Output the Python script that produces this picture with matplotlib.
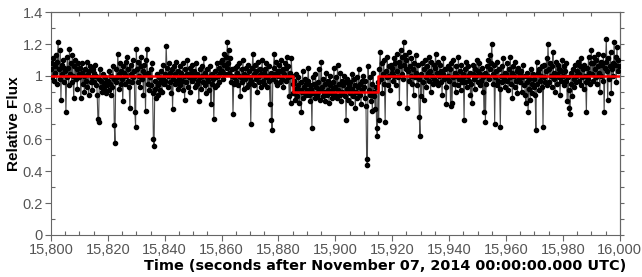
import matplotlib
matplotlib.use("AGG")

import matplotlib.pyplot as plt
import matplotlib.ticker as mticker
import numpy as np

# ── Data (flux in hundredths) ───────────────────────────────────────────────
T_START = 15800.0
T_STEP = 0.25  # seconds between samples

FLUX_PCT = [
    104, 108, 99, 111, 97, 106, 102, 113, 95, 109, 121, 104, 98, 116, 85, 107, 101, 110, 96, 105,
    103, 77, 99, 112, 105, 94, 117, 101, 108, 96, 113, 100, 86, 106, 110, 98, 104, 92, 108, 101,
    99, 105, 86, 102, 108, 95, 100, 90, 104, 97, 109, 93, 101, 88, 103, 106, 96, 99, 91, 104,
    102, 96, 107, 94, 100, 88, 73, 71, 98, 104, 93, 97, 90, 101, 95, 92, 99, 89, 96, 94,
    97, 91, 103, 95, 88, 100, 93, 106, 98, 69, 58, 96, 104, 99, 114, 101, 92, 108, 95, 103,
    98, 84, 106, 102, 95, 109, 100, 112, 97, 104, 93, 80, 101, 107, 96, 110, 99, 103, 77, 68,
    117, 104, 96, 109, 100, 93, 106, 112, 98, 103, 88, 107, 101, 78, 110, 117, 95, 102, 91, 99,
    104, 94, 108, 89, 60, 56, 92, 97, 86, 101, 94, 88, 99, 91, 96, 103, 90, 98, 107, 95,
    101, 97, 119, 105, 93, 100, 108, 96, 102, 89, 104, 79, 98, 106, 95, 101, 109, 97, 92, 103,
    99, 106, 94, 102, 97, 108, 91, 100, 85, 104, 96, 101, 110, 93, 99, 105, 90, 102, 97, 107,
    98, 103, 93, 100, 108, 95, 101, 97, 84, 104, 99, 92, 106, 100, 96, 111, 94, 102, 89, 99,
    104, 97, 91, 100, 106, 82, 95, 101, 98, 73, 93, 103, 99, 108, 94, 100, 105, 96, 102, 109,
    103, 110, 98, 107, 114, 101, 112, 105, 121, 108, 116, 102, 111, 96, 104, 100, 76, 95, 99, 105,
    97, 102, 106, 94, 100, 108, 87, 99, 104, 96, 110, 92, 101, 98, 105, 93, 100, 107, 95, 103,
    99, 70, 97, 105, 114, 101, 94, 107, 98, 103, 90, 109, 100, 96, 104, 93, 101, 110, 97, 102,
    95, 104, 99, 108, 93, 100, 106, 97, 82, 102, 72, 66, 98, 105, 114, 101, 96, 109, 94, 103,
    100, 107, 96, 103, 110, 98, 104, 93, 101, 108, 97, 105, 112, 99, 106, 87, 102, 83, 111, 100,
    95, 89, 97, 85, 92, 101, 87, 94, 99, 83, 91, 96, 77, 90, 103, 86, 93, 98, 88, 95,
    91, 97, 105, 88, 94, 84, 92, 67, 99, 89, 95, 86, 101, 93, 87, 96, 90, 104, 85, 92,
    109, 93, 87, 98, 90, 84, 95, 102, 88, 91, 97, 83, 94, 100, 89, 86, 96, 92, 105, 88,
    93, 99, 86, 107, 91, 95, 88, 102, 84, 97, 90, 94, 100, 87, 96, 72, 92, 98, 85, 94,
    89, 96, 83, 101, 92, 87, 98, 94, 80, 90, 99, 86, 93, 104, 88, 95, 82, 97, 91, 100,
    93, 86, 97, 81, 48, 44, 106, 91, 88, 99, 84, 95, 78, 102, 90, 87, 79, 93, 67, 62,
    96, 72, 104, 115, 98, 108, 89, 101, 110, 95, 71, 103, 99, 112, 94, 106, 100, 91, 107, 102,
    105, 97, 111, 100, 108, 94, 114, 103, 99, 109, 83, 106, 116, 101, 112, 98, 121, 107, 113, 104,
    110, 80, 103, 115, 97, 106, 100, 111, 95, 104, 88, 108, 99, 113, 102, 94, 107, 98, 74, 62,
    101, 87, 108, 96, 85, 104, 110, 99, 93, 106, 102, 112, 97, 103, 90, 109, 100, 95, 107, 98,
    105, 114, 97, 102, 109, 94, 100, 107, 96, 103, 88, 101, 111, 98, 104, 93, 82, 99, 106, 100,
    97, 104, 81, 108, 83, 99, 110, 95, 102, 90, 106, 100, 94, 112, 98, 103, 91, 107, 96, 101,
    99, 72, 104, 96, 109, 93, 100, 106, 97, 102, 88, 95, 83, 101, 107, 98, 92, 104, 100, 110,
    96, 103, 108, 94, 101, 97, 105, 90, 99, 77, 102, 71, 95, 106, 100, 110, 98, 113, 104, 108,
    120, 101, 95, 107, 70, 99, 103, 94, 109, 97, 104, 92, 68, 100, 106, 96, 111, 98, 102, 93,
    101, 97, 108, 91, 104, 99, 112, 95, 102, 86, 106, 100, 93, 109, 97, 103, 89, 105, 98, 101,
    96, 103, 90, 99, 107, 94, 100, 88, 83, 96, 102, 77, 92, 98, 85, 104, 95, 89, 101, 93,
    98, 88, 66, 109, 95, 102, 91, 104, 97, 100, 93, 106, 68, 99, 107, 96, 103, 111, 94, 120,
    104, 96, 108, 100, 93, 106, 115, 98, 102, 90, 109, 101, 95, 107, 99, 104, 88, 103, 97, 110,
    100, 106, 94, 103, 97, 108, 84, 99, 91, 80, 76, 95, 102, 87, 104, 98, 93, 107, 100, 96,
    103, 109, 97, 101, 106, 94, 111, 99, 104, 92, 107, 100, 96, 77, 105, 98, 112, 102, 95, 108,
    116, 101, 108, 97, 112, 104, 99, 110, 95, 106, 114, 102, 90, 109, 100, 107, 97, 113, 77, 105,
    109, 123, 103, 85, 111, 98, 106, 115, 89, 104, 108, 100, 121, 107, 112, 96, 118, 103, 110, 106,
]

# Square-well model (red)
MODEL_T = [15800, 15885, 15915, 16000]
MODEL_FLUX = [1.0, 0.9, 1.0, 1.0]

X_TICKS = [15800, 15820, 15840, 15860, 15880, 15900, 15920, 15940, 15960, 15980, 16000]
Y_TICKS = [0, 0.2, 0.4, 0.6, 0.8, 1.0, 1.2, 1.4]
Y_LABELS = ["0", "0.2", "0.4", "0.6", "0.8", "1", "1.2", "1.4"]

# ── Style ───────────────────────────────────────────────────────────────────
TICK_COLOR = "#555555"
SPINE_COLOR = "#666666"

plt.rcParams["font.family"] = ["Liberation Sans", "DejaVu Sans"]

flux = np.array(FLUX_PCT) / 100.0
times = T_START + T_STEP * np.arange(len(flux))

fig = plt.figure(figsize=(6.42, 2.77), dpi=100)
ax = fig.add_axes([0.0794, 0.152, 0.886, 0.804])

ax.plot(times, flux, color="#4a4a4a", linewidth=0.8, zorder=2)
ax.plot(times, flux, linestyle="none", marker="o", markersize=3.0,
        markerfacecolor="black", markeredgecolor="black", zorder=3)
ax.plot(MODEL_T, MODEL_FLUX, drawstyle="steps-post", color="#ff0000",
        linewidth=1.8, zorder=4)

ax.set_xlim(15800, 16000)
ax.set_ylim(0, 1.4)
ax.set_xticks(X_TICKS)
ax.set_xticklabels([f"{v:,}" for v in X_TICKS])
ax.set_yticks(Y_TICKS)
ax.set_yticklabels(Y_LABELS)
ax.xaxis.set_minor_locator(mticker.MultipleLocator(5))
ax.yaxis.set_minor_locator(mticker.MultipleLocator(0.1))

ax.tick_params(which="major", direction="out", length=4, width=0.8,
               color=SPINE_COLOR, labelcolor=TICK_COLOR, labelsize=10.5, pad=2)
ax.tick_params(which="minor", direction="in", length=3, width=0.8, color=SPINE_COLOR)

for side in ["left", "bottom", "top", "right"]:
    ax.spines[side].set_color(SPINE_COLOR)
    ax.spines[side].set_linewidth(0.8)

# top: inward ticks, right: outward ticks, no labels
top = ax.secondary_xaxis("top")
top.set_xticks(np.arange(15800, 16001, 10))
top.tick_params(direction="in", length=3, width=0.8, color=SPINE_COLOR, labeltop=False)
top.spines["top"].set_color(SPINE_COLOR)

right = ax.secondary_yaxis("right")
right.set_yticks(np.arange(0, 1.41, 0.1))
right.tick_params(direction="out", length=3, width=0.8, color=SPINE_COLOR, labelright=False)
right.spines["right"].set_color(SPINE_COLOR)

ax.set_xlabel("Time (seconds after November 07, 2014 00:00:00.000 UTC)",
              fontsize=10.4, fontweight="bold", color="black", labelpad=1,
              family=["DejaVu Sans"])
ax.xaxis.set_label_coords(0.587, -0.11)
ax.set_ylabel("Relative Flux", fontsize=11, fontweight="bold", color="black")
ax.yaxis.set_label_coords(-0.052, 0.5)

fig.savefig("out.png", dpi=100, facecolor="white")
